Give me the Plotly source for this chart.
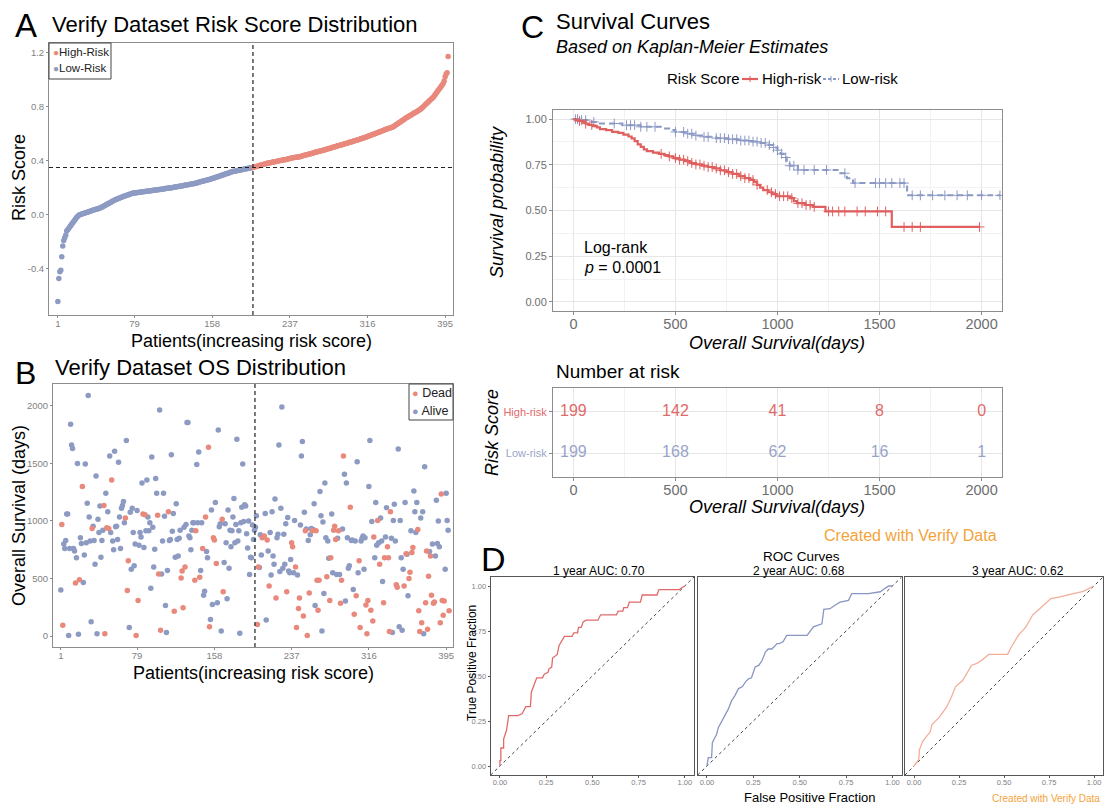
import bisect
import plotly.graph_objects as go

W, H = 1105, 805
FONT = "Liberation Sans, Arial, Helvetica, sans-serif"

RED = "#E8897C"
BLUE = "#8D9BC3"
KM_RED = "#E05F5F"
KM_BLUE = "#8C99C4"
TAB_RED = "#E06A6A"
TAB_BLUE = "#9AA4C9"
ROC_RED = "#E06A6A"
ROC_BLUE = "#8A96C2"
ROC_PEACH = "#F2AE9A"
ORANGE = "#F2A33A"
TICK_GREY = "#7F7F7F"
FRAME_GREY = "#8C8C8C"

# ---------------- data ----------------
# sorted risk scores, low-risk group then high-risk group
risk_low = [
    -0.64, -0.47, -0.42, -0.41, -0.31, -0.23, -0.19, -0.17, -0.15, -0.12,
    -0.11, -0.10, -0.09, -0.08, -0.07, -0.06, -0.05, -0.04, -0.03, -0.02,
    -0.012, -0.005, 0.000, 0.003, 0.005, 0.008, 0.010, 0.012, 0.015, 0.017,
    0.020, 0.022, 0.025, 0.027, 0.030, 0.032, 0.035, 0.037, 0.040, 0.042,
    0.044, 0.046, 0.048, 0.050, 0.054, 0.058, 0.062, 0.066, 0.070, 0.074,
    0.078, 0.082, 0.086, 0.090, 0.094, 0.098, 0.102, 0.106, 0.110, 0.113,
    0.116, 0.119, 0.122, 0.125, 0.128, 0.131, 0.134, 0.137, 0.140, 0.142,
    0.144, 0.146, 0.149, 0.152, 0.155, 0.158, 0.160, 0.161, 0.162, 0.163,
    0.164, 0.165, 0.166, 0.167, 0.168, 0.169, 0.170, 0.171, 0.172, 0.173,
    0.174, 0.175, 0.176, 0.177, 0.178, 0.179, 0.180, 0.181, 0.182, 0.183,
    0.184, 0.185, 0.186, 0.187, 0.188, 0.189, 0.190, 0.191, 0.192, 0.194,
    0.195, 0.196, 0.197, 0.198, 0.199, 0.200, 0.201, 0.203, 0.204, 0.205,
    0.206, 0.208, 0.209, 0.210, 0.212, 0.213, 0.214, 0.216, 0.217, 0.218,
    0.220, 0.221, 0.222, 0.224, 0.225, 0.226, 0.228, 0.229, 0.230, 0.232,
    0.234, 0.236, 0.238, 0.240, 0.242, 0.244, 0.246, 0.248, 0.250, 0.252,
    0.254, 0.256, 0.258, 0.260, 0.262, 0.264, 0.266, 0.268, 0.270, 0.273,
    0.276, 0.278, 0.280, 0.283, 0.285, 0.288, 0.290, 0.293, 0.295, 0.298,
    0.300, 0.303, 0.305, 0.308, 0.310, 0.313, 0.315, 0.318, 0.320, 0.322,
    0.323, 0.325, 0.326, 0.328, 0.329, 0.331, 0.332, 0.334, 0.335, 0.337,
    0.338, 0.340, 0.341, 0.343, 0.344, 0.346, 0.347, 0.349, 0.350,
]
risk_high = [
    0.352, 0.354, 0.356, 0.358, 0.360, 0.362, 0.364, 0.366, 0.368, 0.370,
    0.372, 0.374, 0.377, 0.380,
    0.381, 0.383, 0.384, 0.386, 0.387, 0.389, 0.390,
    0.392, 0.393, 0.395, 0.396, 0.398, 0.399, 0.401, 0.402, 0.404, 0.405,
    0.407, 0.408, 0.410, 0.411, 0.413, 0.414, 0.416, 0.418, 0.420, 0.422,
    0.423, 0.424, 0.425, 0.426, 0.427, 0.428, 0.430,
    0.432, 0.434, 0.436,
    0.438, 0.440, 0.442, 0.444, 0.446, 0.448, 0.450, 0.452, 0.454, 0.456,
    0.458, 0.460, 0.462, 0.464, 0.466, 0.468, 0.470, 0.472, 0.474, 0.476,
    0.478, 0.480, 0.482, 0.484, 0.486, 0.488, 0.490, 0.492, 0.494, 0.497, 0.500,
    0.502, 0.504, 0.506, 0.508, 0.510, 0.512, 0.514, 0.516, 0.518,
    0.520, 0.523, 0.525, 0.527, 0.529, 0.531, 0.534, 0.536, 0.538, 0.540,
    0.543, 0.545, 0.547, 0.550, 0.552, 0.554, 0.557, 0.559, 0.561, 0.564,
    0.566, 0.568, 0.571, 0.573, 0.576,
    0.579, 0.582, 0.584, 0.587, 0.590,
    0.593, 0.596, 0.598, 0.601, 0.604, 0.607, 0.610, 0.612, 0.615, 0.618,
    0.621, 0.624, 0.627, 0.630, 0.632, 0.635, 0.638, 0.640, 0.642, 0.645, 0.647, 0.650,
    0.655, 0.660, 0.665, 0.670, 0.675, 0.680, 0.685, 0.690, 0.695, 0.700, 0.705, 0.710, 0.715, 0.720,
    0.724, 0.728, 0.732, 0.737, 0.741, 0.745, 0.750, 0.754, 0.758, 0.762, 0.767, 0.771, 0.776, 0.780,
    0.787, 0.794, 0.801, 0.808, 0.815, 0.822, 0.829, 0.836, 0.843, 0.850, 0.857, 0.863, 0.870,
    0.88, 0.89, 0.90, 0.91, 0.92, 0.93, 0.94, 0.95, 0.96, 0.97, 0.99, 1.02, 1.04, 1.05, 1.17,
]
risk_cutoff = 0.35
patient_ticks = [1, 79, 158, 237, 316, 395]

# overall survival (days) per patient in risk-score order, and vital status (1 = dead)
os_days = [
    400, 970, 95, 800, 760, 830, 1060, 1060, 5, 760,
    1840, 1660, 1630, 760, 740, 460, 680, 1500, 15, 490,
    855, 805, 1300, 465, 705, 1495, 810, 1155, 2090, 1035,
    825, 125, 935, 955, 830, 625, 1390, 20, 1015, 900,
    1130, 685, 830, 920, 1135, 20, 1240, 940, 1080, 935,
    1565, 900, 1355, 825, 750, 1605, 950, 955, 840, 1510,
    1035, 760, 1110, 1135, 1170, 985, 1025, 1700, 395, 655,
    75, 1075, 580, 1110, 900, 610, 800, 5, 1090, 310,
    790, 900, 860, 1330, 1060, 770, 1055, 915, 1355, 1035,
    915, 985, 415, 1555, 945, 600, 755, 1370, 1240, 1050,
    540, 1965, 50, 540, 825, 1240, 1040, 265, 30, 570,
    1080, 830, 840, 1575, 910, 1065, 215, 685, 1150, 840,
    695, 850, 920, 505, 565, 245, 945, 600, 970, 1855,
    1855, 870, 855, 750, 920, 985, 985, 485, 915, 1490,
    985, 1600, 510, 570, 985, 760, 355, 390, 1035, 735,
    680, 1640, 80, 145, 1095, 275, 855, 835, 1160, 630,
    290, 1790, 950, 975, 45, 1015, 385, 640, 975, 810,
    325, 1095, 590, 920, 775, 915, 1035, 1195, 810, 970,
    1710, 825, 915, 25, 985, 1120, 1495, 995, 1140, 1130,
    890, 765, 1000, 535, 685, 680, 965, 840, 920,
    945, 1045, 100, 600, 595, 880, 705, 855, 860, 870,
    1065, 140, 835, 740, 435, 900, 530, 1080, 695, 625,
    1190, 330, 855, 885, 1660, 560, 1110, 1990, 590, 885,
    625, 975, 385, 1030, 565, 550, 665, 810, 775, 550,
    1005, 600, 75, 530, 240, 330, 965, 1565, 1690, 175,
    1075, 915, 930, 5, 830, 375, 880, 935, 915, 925,
    1150, 265, 915, 485, 225, 485, 1255, 1045, 45,
    990, 370, 1330, 855, 515, 825, 675, 310, 680, 1060,
    550, 920, 955, 840, 535, 850, 915, 535, 285, 485,
    930, 1565, 1405, 305, 1330, 855, 590, 610, 1120, 830,
    835, 405, 190, 825, 350, 1515, 550, 655, 75, 825,
    850, 870, 580, 855, 270, 20, 310, 1300, 1700, 225,
    995, 130, 860, 680, 1160, 790, 1005, 810, 625, 1025,
    825, 475, 290, 680, 860, 1115, 775, 680, 40, 1080,
    850, 30, 1005, 1145, 825, 445, 425, 1625, 80, 1005,
    680, 50, 580, 435, 1160, 715, 710, 350, 500, 555,
    915, 725, 770, 1260, 1080, 900, 1160, 925, 220, 40,
    1025, 115, 1080, 20, 1470, 290, 740, 60, 520, 735,
    695, 355, 800, 285, 295, 695, 1180, 805, 1000, 775,
    115, 1235, 310, 180, 305, 580, 1240, 1005, 920, 220,
]
os_dead = [
    0, 1, 1, 0, 0, 0, 0, 0, 0, 0,
    0, 0, 0, 0, 0, 1, 0, 0, 0, 1,
    0, 0, 1, 0, 0, 0, 0, 0, 0, 0,
    0, 0, 1, 0, 0, 0, 0, 0, 0, 0,
    0, 0, 0, 0, 1, 1, 0, 1, 0, 1,
    0, 0, 1, 0, 0, 0, 0, 0, 0, 0,
    0, 0, 0, 0, 0, 0, 1, 0, 1, 1,
    0, 0, 0, 0, 0, 0, 0, 1, 0, 1,
    0, 0, 0, 0, 1, 0, 1, 0, 0, 0,
    0, 0, 0, 0, 0, 0, 0, 0, 0, 1,
    1, 0, 1, 0, 0, 0, 0, 0, 0, 0,
    1, 0, 0, 0, 0, 0, 1, 0, 0, 0,
    0, 0, 0, 1, 1, 1, 0, 1, 0, 0,
    0, 0, 0, 0, 0, 0, 0, 1, 1, 0,
    0, 0, 1, 0, 0, 1, 0, 0, 1, 0,
    0, 1, 1, 0, 0, 0, 1, 1, 0, 1,
    0, 0, 0, 0, 0, 1, 1, 0, 0, 0,
    0, 0, 0, 0, 0, 0, 0, 0, 0, 0,
    0, 0, 0, 0, 0, 0, 0, 0, 0, 0,
    0, 0, 0, 0, 0, 0, 0, 0, 0,
    0, 0, 1, 1, 0, 0, 0, 1, 0, 1,
    0, 0, 1, 0, 1, 0, 0, 0, 0, 0,
    0, 1, 0, 0, 0, 0, 0, 0, 0, 0,
    0, 0, 1, 0, 0, 0, 0, 1, 1, 0,
    0, 1, 1, 0, 1, 1, 0, 0, 0, 1,
    0, 1, 0, 1, 0, 1, 0, 0, 1, 0,
    0, 0, 1, 1, 1, 1, 0, 0, 0,
    0, 0, 0, 0, 1, 0, 0, 1, 1, 0,
    0, 1, 1, 1, 0, 0, 1, 0, 1, 1,
    0, 1, 0, 0, 0, 0, 0, 0, 1, 0,
    0, 0, 1, 0, 1, 0, 0, 1, 1, 0,
    0, 0, 0, 0, 1, 1, 1, 0, 0, 1,
    0, 1, 1, 0, 0, 0, 1, 0, 1, 0,
    0, 0, 1, 1, 0, 0, 1, 1, 1, 1,
    0, 0, 0, 0, 0, 1, 1, 0, 0, 0,
    0, 0, 0, 1, 0, 1, 0, 0, 1, 1,
    0, 1, 1, 0, 0, 0, 0, 1, 1, 1,
    0, 1, 0, 0, 0, 1, 1, 1, 1, 0,
    1, 1, 0, 1, 1, 0, 0, 0, 0, 0,
    1, 1, 1, 1, 1, 0, 0, 0, 0, 1,
]

# Kaplan-Meier step estimates
km_high_time = [0, 10, 25, 45, 60, 75, 95, 115, 130, 160, 190, 220, 245, 270, 285, 300,
                315, 330, 345, 360, 390, 420, 445, 465, 490, 520, 545, 570, 600, 630,
                660, 690, 720, 750, 780, 810, 840, 865, 885, 900, 915, 930, 955, 975,
                995, 1060, 1080, 1095, 1135, 1175, 1235, 1560, 1990]
km_high_surv = [1.0, 0.995, 0.99, 0.985, 0.975, 0.968, 0.962, 0.955, 0.945, 0.94, 0.93,
                0.925, 0.915, 0.905, 0.895, 0.88, 0.862, 0.848, 0.835, 0.825, 0.817,
                0.81, 0.803, 0.796, 0.787, 0.778, 0.77, 0.76, 0.752, 0.745, 0.738,
                0.73, 0.72, 0.71, 0.70, 0.688, 0.677, 0.667, 0.655, 0.64, 0.625,
                0.612, 0.60, 0.59, 0.578, 0.568, 0.552, 0.54, 0.53, 0.52, 0.495,
                0.41, 0.41]
km_low_time = [0, 40, 90, 130, 240, 330, 440, 480, 500, 560, 600, 640, 700, 760, 820,
               870, 910, 950, 980, 1000, 1015, 1030, 1045, 1060, 1100, 1300, 1340,
               1370, 1635, 2090]
km_low_surv = [1.0, 0.995, 0.985, 0.976, 0.967, 0.958, 0.949, 0.94, 0.93, 0.92, 0.91,
               0.903, 0.896, 0.89, 0.883, 0.877, 0.87, 0.858, 0.845, 0.83, 0.81, 0.79,
               0.765, 0.745, 0.722, 0.704, 0.677, 0.65, 0.583, 0.583]
censor_high = [30, 60, 90, 430, 470, 500, 520, 540, 560, 580, 600, 620, 640, 660, 680,
               700, 720, 740, 760, 780, 800, 820, 840, 860, 880, 900, 950, 970, 990,
               1010, 1030, 1050, 1070, 1100, 1120, 1140, 1160, 1180, 1250, 1270, 1300,
               1330, 1390, 1430, 1490, 1530, 1620, 1660, 1700, 1990]
censor_low = [10, 20, 40, 60, 100, 200, 260, 280, 300, 330, 360, 400, 500, 540, 560,
              580, 600, 640, 660, 700, 720, 740, 760, 780, 800, 820, 840, 860, 880,
              900, 920, 940, 960, 980, 1000, 1020, 1040, 1060, 1080, 1100, 1130, 1180,
              1240, 1330, 1380, 1480, 1500, 1530, 1560, 1600, 1620, 1660, 1700, 1760,
              1820, 1880, 1930, 2000, 2090]

# number at risk table
risk_table_times = [0, 500, 1000, 1500, 2000]
at_risk_high = [199, 142, 41, 8, 0]
at_risk_low = [199, 168, 62, 16, 1]

# time-dependent ROC curves
roc1_fpr = [0, 0, 0.005, 0.005, 0.02, 0.02, 0.036, 0.047, 0.096, 0.12, 0.14, 0.165, 0.17,
            0.199, 0.23, 0.24, 0.26, 0.265, 0.28, 0.285, 0.31, 0.32, 0.349, 0.39, 0.40,
            0.42, 0.425, 0.44, 0.45, 0.467, 0.53, 0.545, 0.63, 0.64, 0.665, 0.67, 0.69,
            0.70, 0.76, 0.77, 0.85, 0.86, 0.97, 1.0]
roc1_tpr = [0, 0.03, 0.03, 0.10, 0.10, 0.15, 0.20, 0.28, 0.28, 0.29, 0.33, 0.33, 0.41,
            0.49, 0.49, 0.51, 0.52, 0.54, 0.55, 0.60, 0.62, 0.67, 0.72, 0.72, 0.74,
            0.74, 0.77, 0.77, 0.80, 0.81, 0.81, 0.84, 0.84, 0.86, 0.86, 0.88, 0.88,
            0.91, 0.91, 0.95, 0.95, 0.98, 0.98, 1.0]
roc2_fpr = [0, 0.007, 0.025, 0.029, 0.043, 0.052, 0.061, 0.08, 0.097, 0.115, 0.133, 0.15,
            0.17, 0.19, 0.21, 0.224, 0.24, 0.26, 0.28, 0.297, 0.315, 0.33, 0.35, 0.378,
            0.39, 0.41, 0.43, 0.54, 0.574, 0.62, 0.63, 0.663, 0.69, 0.718, 0.763, 0.781,
            0.87, 0.935, 0.96, 0.98, 1.0]
roc2_tpr = [0, 0.046, 0.046, 0.13, 0.158, 0.176, 0.213, 0.25, 0.288, 0.316, 0.363, 0.39,
            0.43, 0.44, 0.47, 0.484, 0.49, 0.55, 0.56, 0.586, 0.633, 0.65, 0.65, 0.68,
            0.68, 0.69, 0.726, 0.726, 0.773, 0.79, 0.87, 0.874, 0.893, 0.91, 0.92, 0.958,
            0.958, 0.968, 0.987, 1.0, 1.0]
roc3_fpr = [0, 0.027, 0.03, 0.05, 0.09, 0.10, 0.14, 0.18, 0.207, 0.23, 0.27, 0.30, 0.32,
            0.35, 0.38, 0.415, 0.52, 0.54, 0.58, 0.62, 0.66, 0.70, 0.76, 0.81, 0.88,
            0.94, 1.0]
roc3_tpr = [0, 0.037, 0.09, 0.14, 0.19, 0.23, 0.27, 0.325, 0.38, 0.44, 0.475, 0.53, 0.56,
            0.57, 0.59, 0.62, 0.62, 0.66, 0.727, 0.77, 0.84, 0.875, 0.93, 0.94, 0.958,
            0.97, 1.0]
roc_titles = ["1 year AUC: 0.70", "2 year AUC: 0.68", "3 year AUC: 0.62"]
roc_ticks = [0, 0.25, 0.5, 0.75, 1.0]


# ---------------- helpers ----------------
def px(x):
    return x / W


def py(y):
    return 1 - y / H


def step_value(times, surv, t):
    return surv[bisect.bisect_right(times, t) - 1]


annotations = []


def note(text, x, y, size, color="black", xanchor="left", yanchor="middle", angle=0):
    annotations.append(dict(
        text=text, x=px(x), y=py(y), xref="paper", yref="paper",
        xanchor=xanchor, yanchor=yanchor, showarrow=False, textangle=angle,
        font=dict(family=FONT, size=size, color=color),
    ))


fig = go.Figure()

# ---------------- panel A: risk score distribution ----------------
n_low = len(risk_low)
x_low = list(range(1, n_low + 1))
x_high = list(range(n_low + 1, n_low + len(risk_high) + 1))
fig.add_trace(go.Scatter(x=x_low, y=risk_low, mode="markers", xaxis="x", yaxis="y",
                         marker=dict(color=BLUE, size=5.5), showlegend=False))
fig.add_trace(go.Scatter(x=x_high, y=risk_high, mode="markers", xaxis="x", yaxis="y",
                         marker=dict(color=RED, size=5.5), showlegend=False))
split_x = n_low + 0.5

# ---------------- panel B: OS distribution ----------------
patients = list(range(1, len(os_days) + 1))
dead_x = [p for p, d in zip(patients, os_dead) if d == 1]
dead_y = [v for v, d in zip(os_days, os_dead) if d == 1]
alive_x = [p for p, d in zip(patients, os_dead) if d == 0]
alive_y = [v for v, d in zip(os_days, os_dead) if d == 0]
fig.add_trace(go.Scatter(x=alive_x, y=alive_y, mode="markers", xaxis="x2", yaxis="y2",
                         marker=dict(color=BLUE, size=5.5), showlegend=False))
fig.add_trace(go.Scatter(x=dead_x, y=dead_y, mode="markers", xaxis="x2", yaxis="y2",
                         marker=dict(color=RED, size=5.5), showlegend=False))

# ---------------- panel C: Kaplan-Meier ----------------
fig.add_trace(go.Scatter(x=km_low_time, y=km_low_surv, mode="lines", xaxis="x3", yaxis="y3",
                         line=dict(color=KM_BLUE, width=2, dash="6px,4px", shape="hv"),
                         showlegend=False))
fig.add_trace(go.Scatter(x=censor_low, y=[step_value(km_low_time, km_low_surv, t) for t in censor_low],
                         mode="markers", xaxis="x3", yaxis="y3",
                         marker=dict(symbol="cross-thin", size=7,
                                     line=dict(color=KM_BLUE, width=1)),
                         showlegend=False))
fig.add_trace(go.Scatter(x=km_high_time, y=km_high_surv, mode="lines", xaxis="x3", yaxis="y3",
                         line=dict(color=KM_RED, width=2.2, shape="hv"), showlegend=False))
fig.add_trace(go.Scatter(x=censor_high, y=[step_value(km_high_time, km_high_surv, t) for t in censor_high],
                         mode="markers", xaxis="x3", yaxis="y3",
                         marker=dict(symbol="cross-thin", size=7,
                                     line=dict(color=KM_RED, width=1)),
                         showlegend=False))

# number at risk
fig.add_trace(go.Scatter(x=risk_table_times, y=[2] * len(at_risk_high), mode="text",
                         text=[str(v) for v in at_risk_high], xaxis="x4", yaxis="y4",
                         textfont=dict(family=FONT, size=16, color=TAB_RED), showlegend=False))
fig.add_trace(go.Scatter(x=risk_table_times, y=[1] * len(at_risk_low), mode="text",
                         text=[str(v) for v in at_risk_low], xaxis="x4", yaxis="y4",
                         textfont=dict(family=FONT, size=16, color=TAB_BLUE), showlegend=False))

# ---------------- panel D: ROC curves ----------------
roc_sets = [(roc1_fpr, roc1_tpr, ROC_RED), (roc2_fpr, roc2_tpr, ROC_BLUE), (roc3_fpr, roc3_tpr, ROC_PEACH)]
for i, (fx, ty, col) in enumerate(roc_sets):
    fig.add_trace(go.Scatter(x=fx, y=ty, mode="lines", xaxis=f"x{5 + i}", yaxis=f"y{5 + i}",
                             line=dict(color=col, width=1.3), showlegend=False))

# ---------------- axes ----------------
def frame_axis(domain, rng, anchor, tickvals, ticktext=None, size=10, color=TICK_GREY,
               linecolor=FRAME_GREY, ticklen=3, **extra):
    ax = dict(domain=domain, range=rng, anchor=anchor, tickvals=tickvals,
              showline=True, mirror=True, linecolor=linecolor, linewidth=1,
              ticks="outside", ticklen=ticklen, tickcolor=linecolor, tickwidth=1,
              tickfont=dict(family=FONT, size=size, color=color),
              showgrid=False, zeroline=False)
    if ticktext is not None:
        ax["ticktext"] = ticktext
    ax.update(extra)
    return ax


layout = dict(
    width=W, height=H, autosize=False,
    margin=dict(l=0, r=0, t=0, b=0),
    paper_bgcolor="white", plot_bgcolor="white",
    font=dict(family=FONT),
    showlegend=False,
)

# A
layout["xaxis"] = frame_axis([px(49), px(453)], [-8, 403], "y", patient_ticks,
                             size=9.5, ticklen=2, ticklabelstandoff=-2)
layout["yaxis"] = frame_axis([py(315), py(43)], [-0.74, 1.27], "x",
                             [-0.4, 0.0, 0.4, 0.8, 1.2], ["-0.4", "0.0", "0.4", "0.8", "1.2"],
                             size=9.5, ticklen=2)
# B
layout["xaxis2"] = frame_axis([px(53), px(453)], [-7, 402], "y2", patient_ticks,
                              size=9.5, ticklen=2, ticklabelstandoff=-2)
layout["yaxis2"] = frame_axis([py(647), py(384)], [-95, 2190], "x2",
                              [0, 500, 1000, 1500, 2000], size=9.5, ticklen=2)
# C: survival curves
km_grid = dict(showgrid=True, gridcolor="#E6E6E6", gridwidth=1)
layout["xaxis3"] = frame_axis([px(553), px(1002)], [-100, 2100], "y3", risk_table_times,
                              size=14.5, color="#6E6E6E", ticklabelstandoff=-3,
                              minor=dict(dtick=250, showgrid=True, gridcolor="#F2F2F2", gridwidth=1),
                              **km_grid)
layout["yaxis3"] = frame_axis([py(311), py(110)], [-0.05, 1.05], "x3",
                              [0, 0.25, 0.5, 0.75, 1.0], ["0.00", "0.25", "0.50", "0.75", "1.00"],
                              size=11, color="#6E6E6E",
                              minor=dict(dtick=0.125, showgrid=True, gridcolor="#F2F2F2", gridwidth=1),
                              **km_grid)
# risk table
layout["xaxis4"] = frame_axis([px(553), px(1002)], [-100, 2100], "y4", risk_table_times,
                              size=14.5, color="#6E6E6E", ticklabelstandoff=-3,
                              minor=dict(dtick=250, showgrid=True, gridcolor="#F2F2F2", gridwidth=1),
                              **km_grid)
layout["yaxis4"] = frame_axis([py(477), py(388)], [0.43, 2.57], "x4", [1, 2],
                              [f"<span style='color:{TAB_BLUE}'>Low-risk</span>",
                               f"<span style='color:{TAB_RED}'>High-risk</span>"],
                              size=11, **km_grid)
# D: ROC panels
roc_x_domains = [[px(490.7), px(694)], [px(697.7), px(901.7)], [px(905), px(1103)]]
roc_labels = ["0.00", "0.25", "0.50", "0.75", "1.00"]
for i, dom in enumerate(roc_x_domains):
    k = 5 + i
    layout[f"xaxis{k}"] = frame_axis(dom, [-0.05, 1.05], f"y{k}", roc_ticks, roc_labels,
                                     size=7.5, linecolor="#555555", ticklen=2,
                                     ticklabelstandoff=-2)
    yax = frame_axis([py(775), py(577)], [-0.05, 1.05], f"x{k}", roc_ticks, roc_labels,
                     size=7.5, linecolor="#555555", ticklen=2)
    if i > 0:
        yax["showticklabels"] = False
        yax["ticks"] = ""
    layout[f"yaxis{k}"] = yax

# ---------------- reference lines and legend boxes ----------------
dash_line = dict(color="#222222", width=1.2, dash="4px,3px")
shapes = [
    dict(type="line", xref="x", yref="y domain", x0=split_x, x1=split_x, y0=0, y1=1, line=dash_line),
    dict(type="line", xref="x domain", yref="y", x0=0, x1=1, y0=risk_cutoff, y1=risk_cutoff, line=dash_line),
    dict(type="line", xref="x2", yref="y2 domain", x0=split_x, x1=split_x, y0=0, y1=1, line=dash_line),
    # legend boxes
    dict(type="rect", xref="paper", yref="paper", x0=px(49), x1=px(111), y0=py(79), y1=py(43),
         line=dict(color="#444444", width=1), fillcolor="white"),
    dict(type="rect", xref="paper", yref="paper", x0=px(409), x1=px(453), y0=py(420), y1=py(384),
         line=dict(color="#444444", width=1), fillcolor="white"),
    # survival legend keys
    dict(type="line", xref="paper", yref="paper", x0=px(742), x1=px(758), y0=py(79), y1=py(79),
         line=dict(color=KM_RED, width=2.2)),
    dict(type="line", xref="paper", yref="paper", x0=px(750), x1=px(750), y0=py(76), y1=py(82),
         line=dict(color=KM_RED, width=1)),
    dict(type="line", xref="paper", yref="paper", x0=px(823), x1=px(839), y0=py(79), y1=py(79),
         line=dict(color=KM_BLUE, width=2, dash="3px,2px")),
    dict(type="line", xref="paper", yref="paper", x0=px(831), x1=px(831), y0=py(76), y1=py(82),
         line=dict(color=KM_BLUE, width=1)),
]
for i in range(3):
    k = 5 + i
    shapes.append(dict(type="line", xref=f"x{k}", yref=f"y{k}", x0=-0.05, y0=-0.05, x1=1.05, y1=1.05,
                       line=dict(color="#444444", width=1, dash="3px,3px"), layer="below"))
layout["shapes"] = shapes

# ---------------- text ----------------
# panel A
note("A", 13, 26, 33)
note("Verify Dataset Risk Score Distribution", 50, 24, 22)
note("Risk Score", 19, 178, 18, xanchor="center", angle=-90)
note("Patients(increasing risk score)", 251, 341, 18, xanchor="center")
note(f"<span style='color:{RED};font-size:10px'>●</span>High-Risk", 51, 52, 11.5, color="#222222")
note(f"<span style='color:{BLUE};font-size:10px'>●</span>Low-Risk", 51, 68, 11.5, color="#222222")
# panel B
note("B", 13, 373, 32)
note("Verify Dataset OS Distribution", 53, 367, 22)
note("Overall Survival (days)", 19, 516, 18, xanchor="center", angle=-90)
note("Patients(increasing risk score)", 253, 673, 18, xanchor="center")
note(f"<span style='color:{RED};font-size:11px'>●</span> Dead", 410, 393, 12.5, color="#222222")
note(f"<span style='color:{BLUE};font-size:11px'>●</span> Alive", 410, 410.5, 12.5, color="#222222")
# panel C
note("C", 519, 27, 32)
note("Survival Curves", 554, 22, 22)
note("<i>Based on Kaplan-Meier Estimates</i>", 554, 47, 18)
note("Risk Score", 665, 79, 15)
note("High-risk", 760, 79, 15)
note("Low-risk", 840, 79, 15)
note("<i>Survival probability</i>", 497, 202, 18, xanchor="center", angle=-90)
note("Log-rank", 582, 248, 16)
note("<i>p</i> = 0.0001", 582, 267, 16)
note("<i>Overall Survival(days)</i>", 777, 343, 18, xanchor="center")
note("Number at risk", 554, 371, 19)
note("<i>Risk Score</i>", 492, 432, 18, xanchor="center", angle=-90)
note("<i>Overall Survival(days)</i>", 777, 507, 18, xanchor="center")
note("Created with Verify Data", 910, 535, 16, color=ORANGE, xanchor="center")
# panel D
note("D", 479, 559, 34)
note("ROC Curves", 801, 556, 13.5, xanchor="center")
for title, cx in zip(roc_titles, [599, 799, 1018]):
    note(title, cx, 571, 12, xanchor="center")
note("True Positive Fraction", 472, 663, 12, xanchor="center", angle=-90)
note("False Positive Fraction", 810, 797, 13, xanchor="center")
note("Created with Verify Data", 990, 798, 10, color=ORANGE)

layout["annotations"] = annotations
fig.update_layout(layout)
fig.write_html("out.html")
